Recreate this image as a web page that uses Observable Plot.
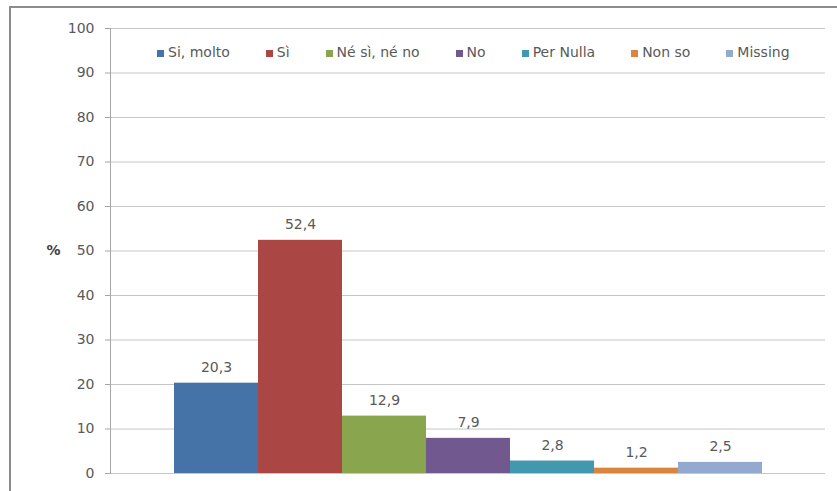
<!DOCTYPE html>
<html>
<head>
<meta charset="utf-8">
<script src="https://cdn.jsdelivr.net/npm/d3@7"></script>
<script src="https://cdn.jsdelivr.net/npm/@observablehq/plot@0.6"></script>
<style>
  html, body { margin: 0; padding: 0; background: #fff; overflow: hidden; }
  #chart { position: relative; width: 837px; height: 491px; font-family: "DejaVu Sans", sans-serif; }
  #chart .border { position: absolute; left: 9px; top: 6px; width: 900px; height: 600px; border: 2px solid #8c8c8c; box-sizing: border-box; }
  #chart svg { position: absolute; left: 0; top: 0; }
  .legend { position: absolute; left: 157px; top: 44px; display: flex; align-items: center; gap: 36px;
            font-size: 14px; line-height: 16px; color: #595959; white-space: nowrap; }
  .legend .item { display: flex; align-items: center; gap: 4px; }
  .legend .sw { width: 7px; height: 7px; margin-top: 2px; }
</style>
</head>
<body>
<div id="chart"><div class="border"></div></div>
<script>
// Risposte (%)
const categories = ["Si, molto", "Sì", "Né sì, né no", "No", "Per Nulla", "Non so", "Missing"];
const values = [20.3, 52.4, 12.9, 7.9, 2.8, 1.2, 2.5];
const colors = ["#4572a7", "#aa4643", "#89a54e", "#71588f", "#4198af", "#db843d", "#93a9cf"];
const yTicks = [0, 10, 20, 30, 40, 50, 60, 70, 80, 90, 100];

const data = categories.map((c, i) => ({cat: c, value: values[i]}));
const fmt = d3.formatLocale({decimal: ",", thousands: ".", grouping: [3], currency: ["", "€"]}).format(".1f");

const chart = Plot.plot({
  width: 837,
  height: 491,
  marginLeft: 110,
  marginRight: 12,
  marginTop: 28,
  marginBottom: 18,
  style: {fontFamily: "DejaVu Sans, sans-serif", fontSize: "14px", color: "#595959", background: "transparent", overflow: "visible"},
  x: {domain: categories, paddingInner: 0, paddingOuter: 0.75, axis: null},
  y: {domain: [0, 100], ticks: yTicks, axis: null},
  color: {domain: categories, range: colors},
  marks: [
    Plot.gridY(yTicks, {stroke: "#c6c6c6", strokeOpacity: 1}),
    Plot.axisY(yTicks, {tickSize: 5, tickPadding: 11, stroke: "#a6a6a6", fill: "#595959", label: null}),
    Plot.barY(data, {x: "cat", y: "value", fill: "cat"}),
    Plot.frame({anchor: "left", stroke: "#a6a6a6"}),
    Plot.text(data, {x: "cat", y: "value", text: d => fmt(d.value), lineAnchor: "bottom", dy: -11, fill: "#595959"}),
    Plot.text(["%"], {text: d => d, frameAnchor: "left", dx: -64, fontWeight: "bold", fill: "#404040"})
  ]
});

const root = document.getElementById("chart");
root.appendChild(chart);

// legenda in alto, dentro l'area del grafico
const legend = d3.select(root).append("div").attr("class", "legend");
const items = legend.selectAll(".item").data(categories).join("div").attr("class", "item");
items.append("span").attr("class", "sw").style("background", (d, i) => colors[i]);
items.append("span").text(d => d);
</script>
</body>
</html>
